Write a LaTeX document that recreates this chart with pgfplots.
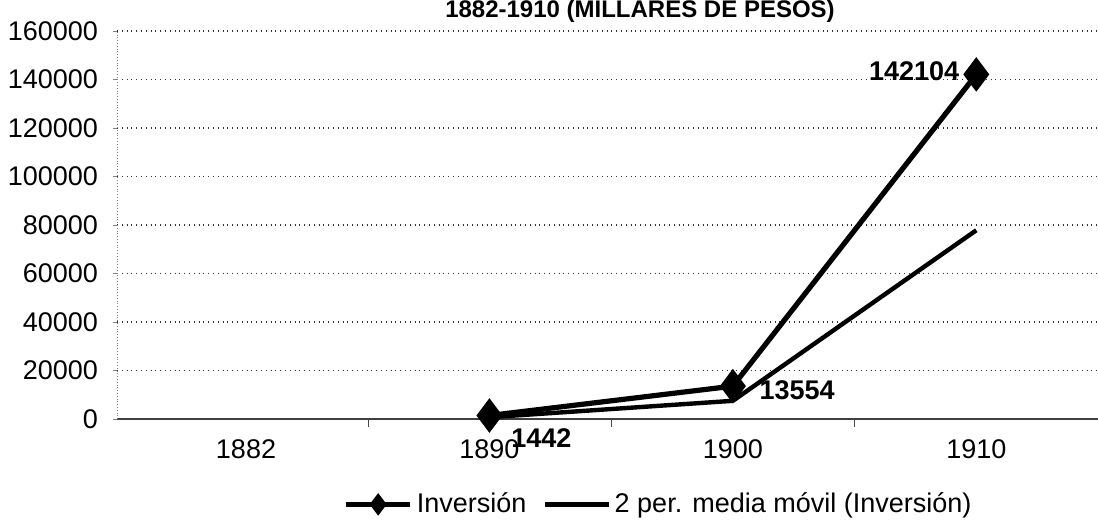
\documentclass[border=0pt]{standalone}
\usepackage{fontspec}
\setmainfont{Liberation Sans}
\usepackage{pgfplots}
\pgfplotsset{compat=1.18}

\begin{document}
\begin{tikzpicture}[x=1pt,y=1pt]
  \begin{axis}[
    at={(0,0)},anchor=south west,
    scale only axis,width=490.5pt,height=194pt,
    xmin=-0.53,xmax=3.5,ymin=0,ymax=160000,
    axis lines=left,axis line style={-},
    x axis line style={black!75,line width=0.8pt},
    y axis line style={gray,densely dotted},
    xtick={0,1,2,3},xticklabels={1882,1890,1900,1910},
    major x tick style={draw=none},
    minor xtick={0.5,1.5,2.5},
    minor tick length=4pt,minor x tick style={black!70},
    ytick={0,20000,...,160000},
    tick align=outside,major tick length=2pt,
    ymajorgrids,grid style={black!80,dotted,line width=0.6pt},
    /pgf/number format/assume math mode=true,
    /pgf/number format/fixed,
    /pgf/number format/set thousands separator={},
    scaled y ticks=false,
    tick label style={font=\fontsize{13.5}{15}\selectfont},
    xticklabel style={yshift=-5pt},
    yticklabel style={xshift=-4pt},
    legend style={font=\fontsize{13.5}{15}\selectfont,draw=none,fill=none,
      at={(0.553,-0.22)},anchor=center,legend columns=2,
      /tikz/every even column/.append style={column sep=6pt}},
    legend image code/.code={%
      \draw[#1,mark repeat=2,mark phase=2,mark size=3.5pt]
        plot coordinates {(0pt,0pt) (16pt,0pt) (32pt,0pt)};},
    clip=false]
    \addplot[black,line width=2.6pt,mark=diamond*,mark size=6.5pt,
      mark options={solid,fill=black}]
      coordinates {(1,1442) (2,13554) (3,142104)};
    \addlegendentry{Inversión}
    \addplot[black,line width=2.2pt,no marks]
      coordinates {(1,721) (2,7498) (3,77829)};
    \addlegendentry{2 per. media móvil (Inversión)}
    \node[anchor=north west,font=\bfseries\fontsize{13.5}{15}\selectfont,inner sep=1pt]
      at (axis cs:1.08,-3000) {1442};
    \node[anchor=west,font=\bfseries\fontsize{13.5}{15}\selectfont,inner sep=1pt]
      at (axis cs:2.1,12000) {13554};
    \node[anchor=east,font=\bfseries\fontsize{13.5}{15}\selectfont,inner sep=1pt]
      at (axis cs:2.94,143500) {142104};
  \end{axis}
  \node[anchor=base,font=\bfseries\fontsize{12}{14}\selectfont] at (261.5,200.5) {1882-1910 (MILLARES DE PESOS)};
  \pgfresetboundingbox
  \useasboundingbox (-58.5,-53) rectangle (490.5,209.5);
\end{tikzpicture}
\end{document}
